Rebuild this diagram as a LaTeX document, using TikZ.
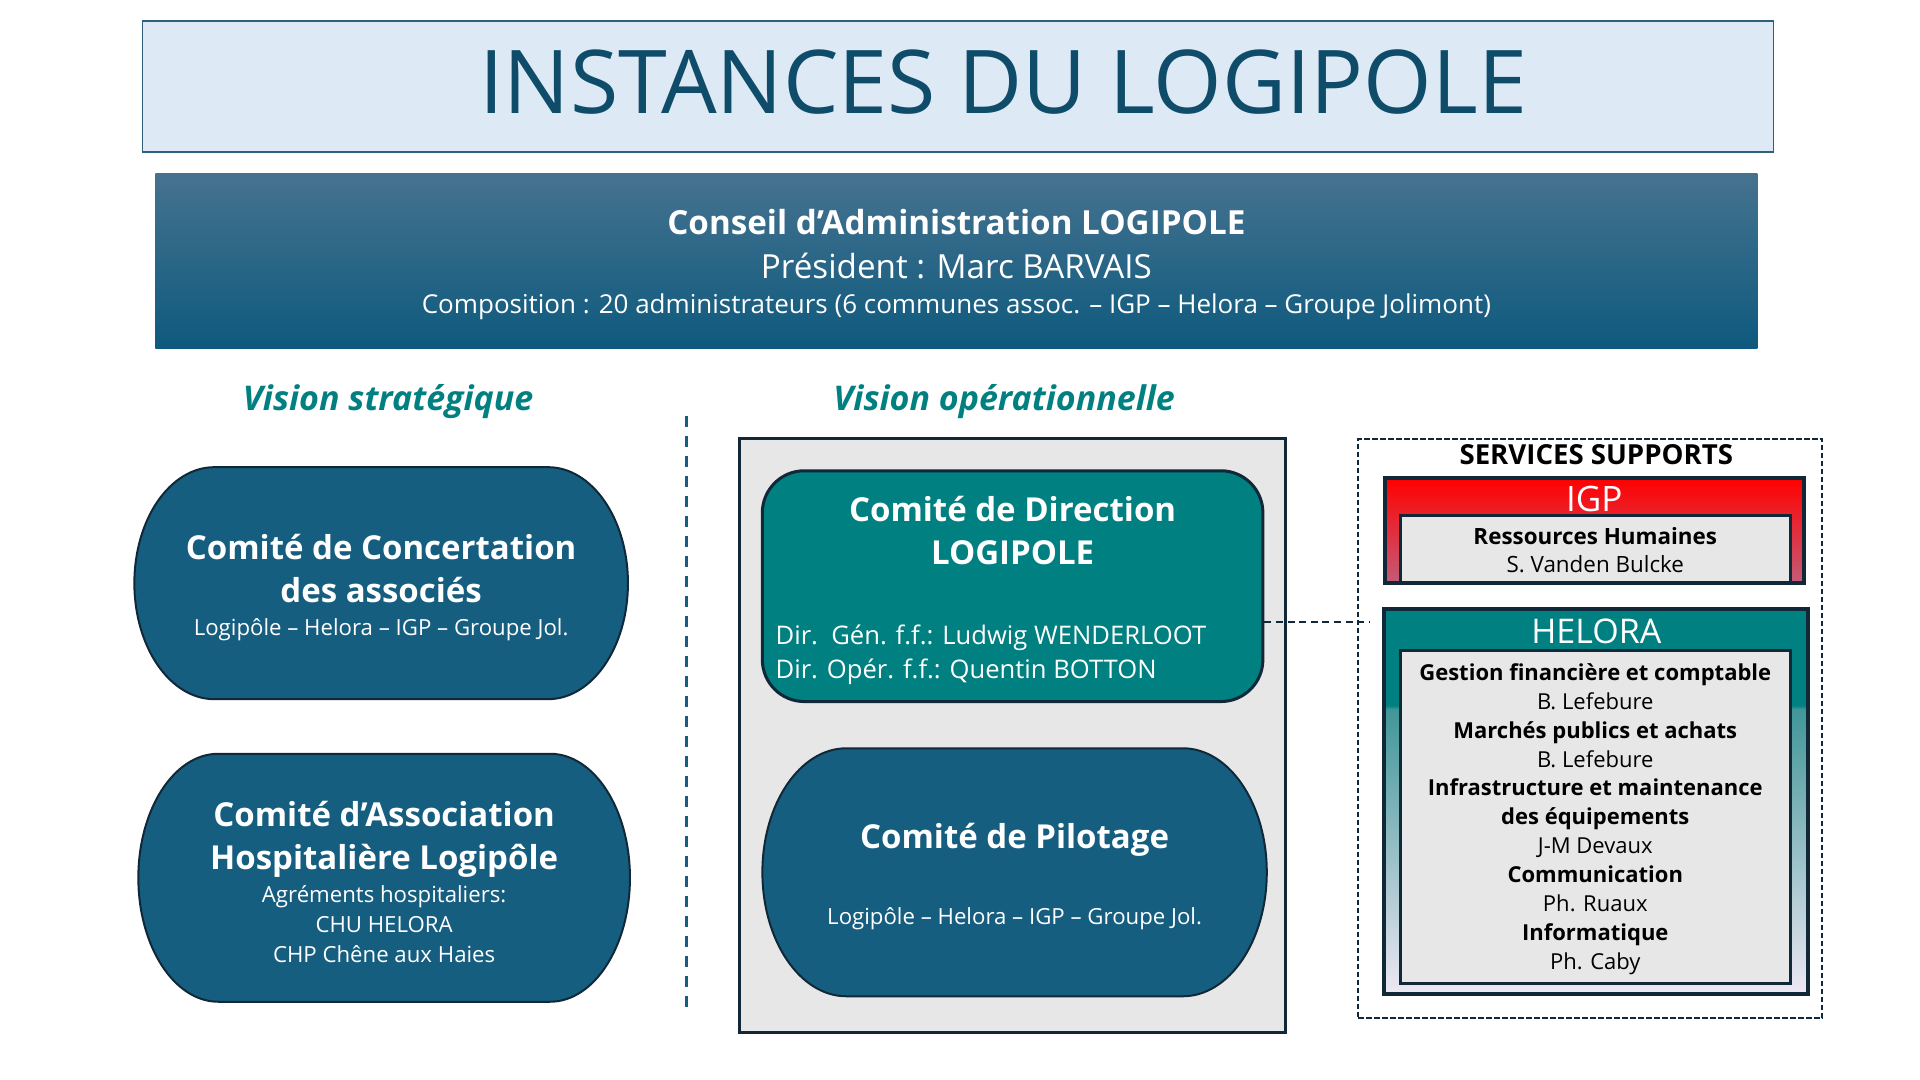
\documentclass[tikz,border=0pt]{standalone}
\usepackage{fontspec}
\setmainfont{Open Sans}
\definecolor{titlefill}{RGB}{221,234,246}
\definecolor{titleline}{RGB}{47,95,122}
\definecolor{titleink}{RGB}{15,76,106}
\definecolor{boardtop}{RGB}{70,114,143}
\definecolor{boardbot}{RGB}{14,90,126}
\definecolor{visionink}{RGB}{0,128,128}
\definecolor{pillblue}{RGB}{22,94,128}
\definecolor{darkline}{RGB}{16,40,56}
\definecolor{greyfill}{RGB}{231,231,231}
\definecolor{tealfill}{RGB}{0,128,128}
\definecolor{igptop}{RGB}{255,0,0}
\definecolor{igpbot}{RGB}{196,92,120}
\definecolor{helomid}{RGB}{64,150,152}
\definecolor{helolav}{RGB}{238,232,244}
\pgfdeclareverticalshading{helorashade}{100bp}{color(0bp)=(helolav); color(25bp)=(helolav); color(62bp)=(helomid); color(62.5bp)=(tealfill); color(100bp)=(tealfill)}
\newcommand{\cmtitle}{\fontsize{16.5}{21}\selectfont\bfseries}
\newcommand{\cmsub}{\fontsize{11.1}{15}\selectfont}
\newcommand{\svhead}{\fontsize{11}{14.5}\selectfont\bfseries}
\newcommand{\svname}{\fontsize{11}{14.5}\selectfont}
% pill: centre x, centre y, half width, half height, end radius
\newcommand{\pillpath}[5]{\draw[pillshape] (#1,#2) ++({-#3+#5},{#4}) -- ++({2*(#3-#5)},0pt) arc[start angle=90,end angle=-90,x radius=#5,y radius=#4] -- ++({-2*(#3-#5)},0pt) arc[start angle=270,end angle=90,x radius=#5,y radius=#4] -- cycle;}

\begin{document}
\begin{tikzpicture}[x=0.4976pt,y=-0.4976pt,
	box/.style={draw=darkline,line width=1.5pt,inner sep=0pt},
	pillshape/.style={fill=pillblue,draw=darkline,line width=1pt},
	pilltext/.style={text=white,align=center,inner sep=0pt,font=\fontsize{11}{15}\selectfont},
	vision/.style={text=visionink,font=\fontsize{17}{20}\selectfont\bfseries\itshape},
	divider/.style={draw=pillblue,line width=1.2pt,dash pattern=on 5.5pt off 4.5pt},
	link/.style={draw=darkline,line width=1pt,dash pattern=on 3.5pt off 2.3pt},
	orgbox/.style={draw=darkline,line width=2pt,inner sep=0pt},
	inbox/.style={draw=darkline,line width=1.5pt,fill=greyfill,inner sep=0pt,align=center,font=\fontsize{11}{14.45}\selectfont}]
	\useasboundingbox (0,0) rectangle (1929.3,1085.2);
	\fill[white] (0,0) rectangle (1929.3,1085.2);
	
	% titre
	\node (titlebox) at (962.5,87) [draw=titleline,line width=0.8pt,fill=titlefill,minimum width=815.5pt,minimum height=65.7pt,inner sep=0pt] {};
	\node (title) at (1008,82) [text=titleink,font=\fontsize{44}{50}\selectfont] {INSTANCES DU LOGIPOLE};
	
	% conseil
	\node (board) at (961,262) [top color=boardtop,bottom color=boardbot,minimum width=801pt,minimum height=87.6pt,inner sep=0pt] {};
	\node (boardtext) at (961,266) [text=white,align=center,inner sep=0pt,font=\fontsize{16.6}{22}\selectfont] {\textbf{Conseil d’Administration LOGIPOLE}\\Président : Marc BARVAIS\\[-4.5pt]\fontsize{13}{14}\selectfont Composition : 20 administrateurs (6 communes assoc. – IGP – Helora – Groupe Jolimont)};
	
	\node (strat) at (390,404) [vision] {Vision stratégique};
	\node (oper) at (1009,404) [vision] {Vision opérationnelle};
	
	\coordinate (divtop) at (690,418);
	\coordinate (divbot) at (690,1015);
	\draw[divider] (divtop) -- (divbot);
	
	% vision strategique
	\pillpath{383}{586}{123.4pt}{58pt}{40pt}
	\node (concert) at (383,590) [pilltext] {\cmtitle Comité de Concertation\\[6.5pt]\cmtitle des associés\\[1.5pt]\cmsub Logipôle – Helora – IGP – Groupe Jol.};
	\pillpath{386}{882}{122.9pt}{62pt}{40pt}
	\node (assoc) at (386,886) [pilltext] {\cmtitle Comité d’Association\\[6.5pt]\cmtitle Hospitalière Logipôle\\[1.5pt]\cmsub Agréments hospitaliers:\\\cmsub CHU HELORA\\\cmsub CHP Chêne aux Haies};
	
	% vision operationnelle
	\node (opsframe) at (1017.5,739.5) [box,fill=greyfill,minimum width=273pt,minimum height=297pt] {};
	\node (codir) at (1017.5,589) [box,fill=tealfill,rounded corners=21pt,minimum width=250.3pt,minimum height=115.4pt] {};
	\node (codirtitle) at (1017.5,533) [text=white,align=center,inner sep=0pt,font=\fontsize{11}{15}\selectfont] {\cmtitle Comité de Direction\\[6.5pt]\cmtitle LOGIPOLE};
	\node (codirnames) at (779,657.5) [anchor=west,text=white,align=left,inner sep=0pt,font=\fontsize{12.8}{17}\selectfont] {Dir.\ \ Gén. f.f.: Ludwig WENDERLOOT\\Dir. Opér. f.f.: Quentin BOTTON};
	\pillpath{1019.5}{876.5}{126.1pt}{62pt}{42pt}
	\node (copil) at (1019.5,880.5) [pilltext] {\cmtitle Comité de Pilotage\\[23pt]\cmsub Logipôle – Helora – IGP – Groupe Jol.};
	
	% services supports
	\node (services) at (1598,732) [draw=darkline,line width=0.85pt,dash pattern=on 2.7pt off 1.3pt,minimum width=232pt,minimum height=289.6pt,inner sep=0pt] {};
	\node (suptitle) at (1604,457) [font=\fontsize{13.8}{16}\selectfont\bfseries] {SERVICES SUPPORTS};
	
	\node (igp) at (1602.5,533) [orgbox,top color=igptop,bottom color=igpbot,minimum width=209.5pt,minimum height=52.7pt] {};
	\node (igplabel) at (1602,501) [text=white,font=\fontsize{17.5}{19}\selectfont] {IGP};
	\node (igpinner) at (1603,551.5) [inbox,minimum width=195pt,minimum height=33.3pt] {};
	\node (igptext) at (1603,553) [align=center,inner sep=0pt,font=\fontsize{11.2}{14}\selectfont] {\fontsize{11.2}{14}\selectfont\bfseries Ressources Humaines\\\fontsize{11.2}{14}\selectfont S. Vanden Bulcke};
	
	\node (helora) at (1604,805.5) [orgbox,shade,shading=helorashade,minimum width=212pt,minimum height=192.5pt] {};
	\node (helolabel) at (1604,634) [text=white,font=\fontsize{17}{19}\selectfont] {HELORA};
	\node (heloinner) at (1603,821) [inbox,minimum width=195pt,minimum height=166.2pt] {};
	\node (helotext) at (1603,823) [align=center,inner sep=0pt,font=\fontsize{11}{14.45}\selectfont] {\svhead Gestion financière et comptable\\\svname B. Lefebure\\\svhead Marchés publics et achats\\\svname B. Lefebure\\\svhead Infrastructure et maintenance\\\svhead des équipements\\\svname J-M Devaux\\\svhead Communication\\\svname Ph. Ruaux\\\svhead Informatique\\\svname Ph. Caby};
	
	\coordinate (hook) at (1376,625);
	\draw[link] (codir.east |- hook) -- (hook);
\end{tikzpicture}
\end{document}
